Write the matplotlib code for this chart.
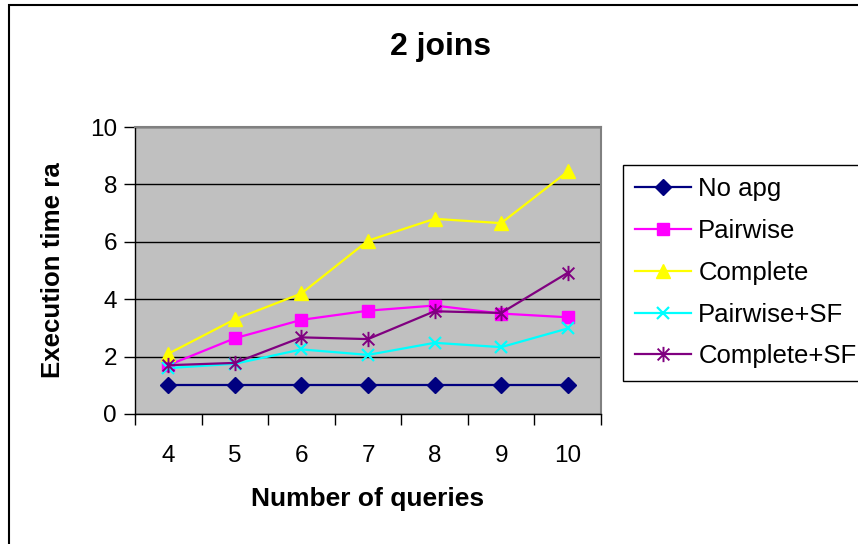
import numpy as np
import matplotlib
matplotlib.use("Agg")
import matplotlib.pyplot as plt
from matplotlib.path import Path
from matplotlib.patches import Rectangle

plt.rcParams['font.family'] = ['Liberation Sans', 'DejaVu Sans']

queries = [4, 5, 6, 7, 8, 9, 10]
no_apg = [1.0, 1.0, 1.0, 1.0, 1.0, 1.0, 1.0]
pairwise = [1.7, 2.64, 3.28, 3.6, 3.78, 3.5, 3.37]
complete = [2.1, 3.3, 4.2, 6.04, 6.8, 6.65, 8.45]
pairwise_sf = [1.6, 1.75, 2.25, 2.06, 2.48, 2.33, 2.98]
complete_sf = [1.7, 1.78, 2.67, 2.61, 3.58, 3.52, 4.92]

# Excel-style star: an x with a vertical bar through it
star = Path([(-1, -1), (1, 1), (-1, 1), (1, -1), (0, -1.3), (0, 1.3)],
            [Path.MOVETO, Path.LINETO, Path.MOVETO, Path.LINETO,
             Path.MOVETO, Path.LINETO])

fig = plt.figure(figsize=(8.58, 5.44), dpi=100)
ax = fig.add_axes([135/858, 1-414/544, (601-135)/858, (414-127)/544])
ax.set_facecolor('#C0C0C0')

ax.plot(queries, no_apg, color='#000080', lw=1.6, marker='D', ms=8,
        label='No apg')
ax.plot(queries, pairwise, color='#FF00FF', lw=1.6, marker='s', ms=8,
        label='Pairwise')
ax.plot(queries, complete, color='#FFFF00', lw=1.6, marker='^', ms=10,
        label='Complete')
ax.plot(queries, pairwise_sf, color='#00FFFF', lw=1.6, marker='x', ms=9,
        mew=1.6, label='Pairwise+SF')
ax.plot(queries, complete_sf, color='#800080', lw=1.6, marker=star, ms=11,
        mew=1.4, fillstyle='none', label='Complete+SF')

ax.set_xlim(3.5, 10.5)
ax.set_ylim(0, 10)
ax.set_yticks(range(0, 11, 2))
ax.set_xticks(queries)
ax.set_xticks(np.arange(3.5, 11, 1), minor=True)
ax.tick_params(axis='x', which='major', length=0, labelsize=17.5, pad=22)
ax.tick_params(axis='x', which='minor', length=8, width=1, direction='out')
ax.tick_params(axis='y', length=8, width=1, direction='out', labelsize=17.5,
               pad=5)
ax.yaxis.grid(True, color='black', lw=1)
ax.set_axisbelow(True)

for side in ['top', 'right']:
    ax.spines[side].set_color('#808080')
    ax.spines[side].set_linewidth(1.5)
for side in ['left', 'bottom']:
    ax.spines[side].set_color('black')
    ax.spines[side].set_linewidth(1)

ax.set_xlabel('Number of queries', fontsize=19, fontweight='bold',
              labelpad=15)
ax.set_ylabel('Execution time ra', fontsize=18.6, fontweight='bold',
              labelpad=18)
fig.text(441/858, 1-47/544, '2 joins', fontsize=23, fontweight='bold',
         ha='center', va='center')

leg = ax.legend(loc='upper left', bbox_to_anchor=(623/858, 1-165/544),
                bbox_transform=fig.transFigure, borderaxespad=0,
                fontsize=18.5, frameon=True, fancybox=False,
                edgecolor='black', framealpha=1, handlelength=2.15,
                handletextpad=0.3, labelspacing=0.69, borderpad=0.48)
leg.get_frame().set_linewidth(1)

# chart area border
fig.patches.append(Rectangle((9/858, -0.1), 1.2, 1 - 5/544 + 0.1,
                             transform=fig.transFigure, fill=False,
                             edgecolor='black', lw=1.5))

fig.savefig('out.png', dpi=100)
